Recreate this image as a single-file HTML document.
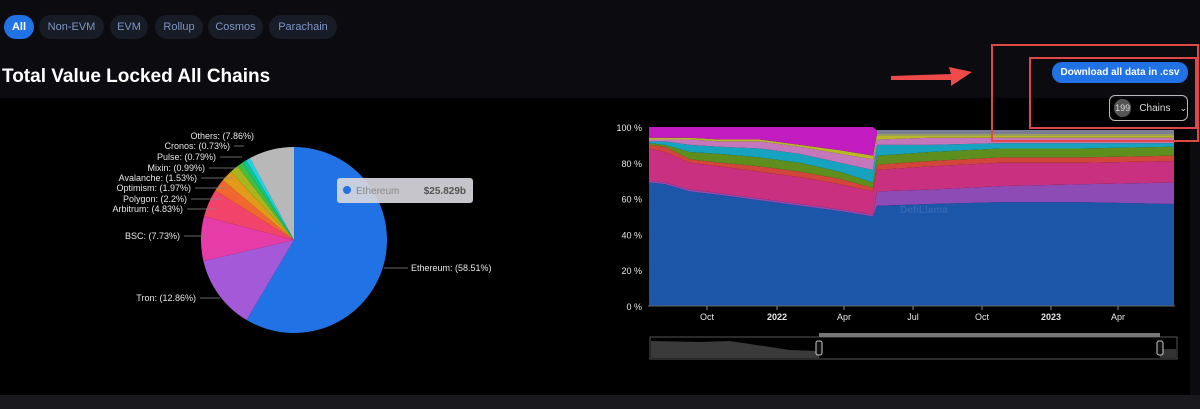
<!DOCTYPE html>
<html><head><meta charset="utf-8"><style>
body{margin:0;width:1200px;height:409px;background:#0c0c10;overflow:hidden;font-family:"Liberation Sans",sans-serif;position:relative}
.b{position:absolute;top:15px;height:24px;border-radius:12px;background:#171c26;color:#7f95c4;font-size:11px;line-height:24px;text-align:center}
</style></head><body>
<div class="b" style="left:4px;width:30px;background:#2172e5;color:#fff;font-weight:bold">All</div>
<div class="b" style="left:39px;width:65px">Non-EVM</div>
<div class="b" style="left:110px;width:38px">EVM</div>
<div class="b" style="left:155px;width:48px">Rollup</div>
<div class="b" style="left:208px;width:55px">Cosmos</div>
<div class="b" style="left:269px;width:68px">Parachain</div>
<div style="position:absolute;left:2px;top:66px;font-size:19px;font-weight:bold;color:#fff">Total Value Locked All Chains</div>
<div style="position:absolute;left:0;top:98px;width:1190px;height:297px;background:#000"></div>
<div style="position:absolute;left:0;top:395px;width:1200px;height:14px;background:#1a1a1e"></div>
<svg id="s" width="1200" height="409" style="position:absolute;left:0;top:0" font-family="Liberation Sans, sans-serif"></svg>
<div style="position:absolute;left:1052px;top:62px;width:136px;height:21px;border-radius:10px;background:#2172e5;color:#fff;font-size:10px;font-weight:bold;line-height:21px;text-align:center">Download all data in .csv</div>
<div style="position:absolute;left:1109px;top:95px;width:77px;height:24px;border:1px solid #bbb;border-radius:6px;color:#ddd;font-size:10px;display:flex;align-items:center;white-space:nowrap"><span style="margin-left:4px;width:18px;height:18px;border-radius:9px;background:#555;text-align:center;line-height:18px;font-size:9px">199</span><span style="margin-left:8px">Chains</span><span style="margin-left:9px;font-size:9px">⌄</span></div>
<script>
var s=document.getElementById('s'),h='';
var cx=294,cy=240,r=93;
var sl=[[58.51,'#2172e5'],[12.86,'#a45ad8'],[7.73,'#e63ca8'],[4.83,'#f2436a'],[2.2,'#f0682f'],[1.97,'#e29a1b'],[1.53,'#a9b51d'],[0.99,'#3fbf3f'],[0.79,'#11c48d'],[0.73,'#1fd3e6'],[7.86,'#b8b8b8']];
var a=0;function P(t,rr){var g=t/100*2*Math.PI;return[cx+rr*Math.sin(g),cy-rr*Math.cos(g)]}
sl.forEach(function(q){var p0=P(a,r),p1=P(a+q[0],r);h+='<path d="M'+cx+','+cy+'L'+p0[0]+','+p0[1]+'A'+r+','+r+' 0 '+(q[0]>50?1:0)+' 1 '+p1[0]+','+p1[1]+'Z" fill="'+q[1]+'"/>';a+=q[0];});
var L=[['Others: (7.86%)',254,139,258],['Cronos: (0.73%)',230,149,244],['Pulse: (0.79%)',216,160,242],['Mixin: (0.99%)',205,171,238],['Avalanche: (1.53%)',197,181,233],['Optimism: (1.97%)',191,191,228],['Polygon: (2.2%)',187,202,222],['Arbitrum: (4.83%)',183,212,216],['BSC: (7.73%)',180,239,205],['Tron: (12.86%)',196,301,220]];
L.forEach(function(l){h+='<line x1="'+(l[1]+4)+'" y1="'+(l[2]-3)+'" x2="'+l[3]+'" y2="'+(l[2]-3)+'" stroke="#888" stroke-width="0.8"/><text x="'+l[1]+'" y="'+l[2]+'" fill="#e6e6e6" font-size="9" text-anchor="end">'+l[0]+'</text>';});
h+='<line x1="384" y1="268" x2="408" y2="268" stroke="#888" stroke-width="0.8"/><text x="411" y="271" fill="#e6e6e6" font-size="9">Ethereum: (58.51%)</text>';
h+='<rect x="337" y="178" width="136" height="25" rx="3" fill="#d6d6dc" opacity="0.92"/><circle cx="347" cy="190" r="4" fill="#2172e5"/><text x="356" y="194" font-size="10" fill="#888">Ethereum</text><text x="466" y="194" font-size="10" font-weight="bold" fill="#555" text-anchor="end">$25.829b</text>';
var X=[649,665,690,720,760,800,840,873,877,930,1000,1080,1174];
var T=[[69,68,64,62,59,56,53,50,56,57,58,58,57],[70,69,65,63,60,57,54,51,64,65,67,68,69],[88,86,80,78,75,72,68,64,76,78,80,80,81],[90,89,82,80,78,75,71,66,79,81,83,83,84],[91,90,86,85,83,80,75,69,84,86,88,88,89],[92,92,90,89,88,85,80,76,90,90,91,91,91],[93,93,93,92,92,89,85,82,93,94,94,94,94],[94,94,94,93,93,90,87,84,96,96,96,96,96],[100,100,100,100,100,100,100,100,98,98,98,98,98]];
var C=['#1b56a8','#8d4bb6','#c9307f','#d2453a','#5e8f1e','#17a2c0','#c477bb','#b8b82a','#c21cc0'];
function Y(p){return 306-1.79*p}
var prev=X.map(function(){return 0});
T.forEach(function(t,i){var d='M'+X[0]+','+Y(t[0]);for(var k=1;k<X.length;k++)d+='L'+X[k]+','+Y(t[k]);for(k=X.length-1;k>=0;k--)d+='L'+X[k]+','+Y(prev[k]);h+='<path d="'+d+'Z" fill="'+C[i]+'"/>';prev=t;});
h+='<rect x="877" y="130" width="297" height="6" fill="#7b7d95"/><rect x="877" y="134" width="297" height="2" fill="#9aa05a"/>';
h+='<text x="900" y="213" font-size="10" font-weight="bold" fill="#3f6fb8" opacity="0.7">DefiLlama</text>';
[100,80,60,40,20,0].forEach(function(p){h+='<text x="642" y="'+(Y(p)+4)+'" fill="#e6e6e6" font-size="9" text-anchor="end">'+p+' %</text>';});
h+='<line x1="648" y1="306" x2="1175" y2="306" stroke="#666" stroke-width="1"/>';
[['Oct',707],['2022',777,1],['Apr',844],['Jul',913],['Oct',982],['2023',1051,1],['Apr',1118]].forEach(function(t){h+='<line x1="'+t[1]+'" y1="306" x2="'+t[1]+'" y2="310" stroke="#888"/><text x="'+t[1]+'" y="320" fill="#e6e6e6" font-size="9" text-anchor="middle"'+(t[2]?' font-weight="bold"':'')+'>'+t[0]+'</text>';});
h+='<rect x="650" y="337" width="527" height="22" fill="none" stroke="#555"/><path d="M651,358L651,341L700,342L730,341L750,344L790,350L819,351L819,358Z" fill="#3a3a3a"/><rect x="819" y="333" width="341" height="4" fill="#777"/><rect x="1160" y="349" width="16" height="9" fill="#333"/><rect x="816" y="341" width="6" height="14" rx="2" fill="#111" stroke="#ccc"/><rect x="1157" y="341" width="6" height="14" rx="2" fill="#111" stroke="#ccc"/>';
h+='<rect x="992" y="45" width="206" height="96" fill="none" stroke="#e04848" stroke-width="2"/><rect x="1030" y="58" width="166" height="70" fill="none" stroke="#e04848" stroke-width="2"/>';
h+='<path d="M891,76L951,74L949,67L972,72L951,86L951,80L891,80Z" fill="#ee4a4a"/>';
s.innerHTML=h;
</script>
</body></html>
